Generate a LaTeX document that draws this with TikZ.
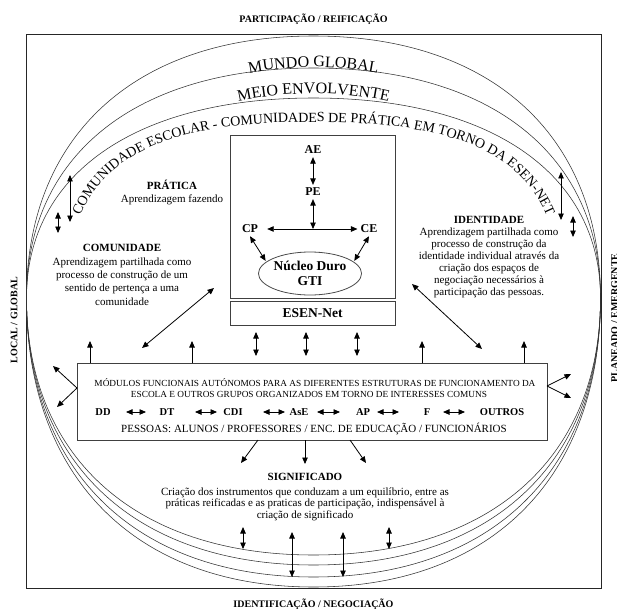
\documentclass[tikz,border=0pt]{standalone}
\usepackage{fontspec}
\setmainfont{Liberation Serif}
\usetikzlibrary{arrows.meta,decorations.text,shapes.geometric}
\newcommand{\fsz}[2]{\fontsize{#1}{#2}\selectfont}
\begin{document}
\begin{tikzpicture}[x=1pt,y=1pt,
  >={Triangle[length=6.5pt,width=5.5pt]},
  curve/.style={draw=black!80, line width=0.55pt},
  frm/.style={draw=black!85, line width=0.9pt},
  boxstyle/.style={draw=black!75, line width=0.9pt, fill=white, rectangle, inner sep=0pt, outer sep=0pt},
  dbl/.style={<->, line width=0.8pt},
  sgl/.style={->, line width=0.8pt},
  sidelbl/.style={font=\bfseries\fsz{10}{12}, inner sep=0pt},
  hd/.style={font=\bfseries\fsz{11}{13}, inner sep=0pt},
  bodyl/.style={font=\fsz{11}{13.3}, align=center, inner sep=0pt, anchor=north},
  ab/.style={font=\bfseries\fsz{12}{14}, inner sep=3pt},
  rowitem/.style={font=\bfseries\fsz{10.5}{12}, inner sep=0pt, anchor=base},
  modtxt/.style={font=\fsz{9.3}{11}, inner sep=0pt, anchor=base}
]
\useasboundingbox (0,0) rectangle (617,-612);
\fill[white] (0,0) rectangle (617,-612);

% side labels
\node[sidelbl] (ttop) at (313.5,-19) {PARTICIPAÇÃO / REIFICAÇÃO};
\node[sidelbl] (tbot) at (313.5,-604) {IDENTIFICAÇÃO / NEGOCIAÇÃO};
\node[sidelbl, rotate=90] (tleft) at (14,-320) {LOCAL / GLOBAL};
\node[sidelbl, rotate=90] (tright) at (614.5,-318) {PLANEADO / EMERGENTE};

% frame
\draw[frm] (26,-34) rectangle (601,-588);

% top curves
\draw[curve] (26.5,-298) .. controls (26.5,-135.6) and (135.6,-36) .. (313.5,-36) .. controls (491.4,-36) and (600.5,-135.6) .. (600.5,-298);
\draw[curve] (26.5,-298) .. controls (26.5,-155.4) and (135.6,-68) .. (313.5,-68) .. controls (491.4,-68) and (600.5,-155.4) .. (600.5,-298);
\draw[curve] (26.5,-298) .. controls (26.5,-174) and (135.6,-98) .. (313.5,-98) .. controls (491.4,-98) and (600.5,-174) .. (600.5,-298);
% bottom curves
\draw[curve] (26.5,-298) .. controls (26.5,-477.2) and (135.6,-587) .. (313.5,-587) .. controls (491.4,-587) and (600.5,-477.2) .. (600.5,-298);
\draw[curve] (26.5,-298) .. controls (26.5,-471) and (135.6,-577) .. (313.5,-577) .. controls (491.4,-577) and (600.5,-471) .. (600.5,-298);
\draw[curve] (26.5,-298) .. controls (26.5,-463.5) and (135.6,-565) .. (313.5,-565) .. controls (491.4,-565) and (600.5,-463.5) .. (600.5,-298);
\draw[curve] (26.5,-298) .. controls (26.5,-457.3) and (135.6,-555) .. (313.5,-555) .. controls (491.4,-555) and (600.5,-457.3) .. (600.5,-298);

% curved texts
\path[decorate, decoration={text along path, text align=center,
  text={|\fsz{16}{16}|MUNDO GLOBAL}}]
  ([shift={(313.5,-298)}]118:280 and 231) arc[start angle=118, end angle=62, x radius=280, y radius=231];
\path[decorate, decoration={text along path, text align=center,
  text={|\fsz{16}{16}|MEIO ENVOLVENTE}}]
  ([shift={(313.5,-298)}]120:270 and 204.5) arc[start angle=120, end angle=60, x radius=270, y radius=204.5];
\path[decorate, decoration={text along path, text align=center,
  text={|\fsz{14}{14}|COMUNIDADE ESCOLAR - COMUNIDADES DE PRÁTICA EM TORNO DA ESEN-NET}}]
  (66,-300) .. controls (66,-171.8) and (134,-122) .. (313.5,-122) .. controls (493,-122) and (561,-171.8) .. (561,-300);

% core boxes
\node[boxstyle, minimum width=165, minimum height=163] (core) at (312.5,-216.5) {};
\node[boxstyle, minimum width=165, minimum height=24, font=\bfseries\fsz{13.5}{15}] (esen) at (312.5,-313) {ESEN-Net};
\node[boxstyle, minimum width=470, minimum height=77] (mod) at (312,-401.5) {};

% core content
\node[ab] (ae) at (313,-150) {AE};
\node[ab] (pe) at (313,-192) {PE};
\node[ab] (cp) at (250,-229) {CP};
\node[ab] (ce) at (369,-229) {CE};
\coordinate (jn) at (313,-229);
\node[ellipse, draw=black!70, line width=0.8pt, minimum width=100, minimum height=43, inner sep=0pt,
  font=\bfseries\fsz{13.5}{15}, align=center] (nuc) at (310,-273.5) {Núcleo Duro\\GTI};
\draw[dbl] (ae) -- (pe);
\draw[dbl] (pe) -- (jn);
\draw[dbl, shorten <=6pt] (cp) -- (ce);
\draw[dbl, shorten >=1pt] (cp.south) -- (nuc.165);
\draw[dbl, shorten >=1pt] (ce.south) -- (nuc.15);

% esen to modules
\coordinate (x1) at (256,0);
\coordinate (x2) at (306,0);
\coordinate (x3) at (357,0);
\draw[dbl, shorten <=7pt, shorten >=7pt] (esen.south -| x1) -- (mod.north -| x1);
\draw[dbl, shorten <=7pt, shorten >=7pt] (esen.south -| x2) -- (mod.north -| x2);
\draw[dbl, shorten <=7pt, shorten >=7pt] (esen.south -| x3) -- (mod.north -| x3);

% module text
\node[modtxt] (m1) at (315,-386) {MÓDULOS FUNCIONAIS AUTÓNOMOS PARA AS DIFERENTES ESTRUTURAS DE FUNCIONAMENTO DA};
\node[modtxt] (m2) at (309,-397) {ESCOLA E OUTROS GRUPOS ORGANIZADOS EM TORNO DE INTERESSES COMUNS};
\node[font=\fsz{11}{13}, inner sep=0pt, anchor=base] (m3) at (314,-432.6) {PESSOAS: ALUNOS / PROFESSORES / ENC. DE EDUCAÇÃO / FUNCIONÁRIOS};
\node[rowitem] (dd) at (103,-415.5) {DD};
\node[rowitem] (dt) at (167,-415.5) {DT};
\node[rowitem] (cdi) at (233,-415.5) {CDI};
\node[rowitem] (ase) at (299,-415.5) {AsE};
\node[rowitem] (ap) at (363,-415.5) {AP};
\node[rowitem] (f) at (427,-415.5) {F};
\node[rowitem] (outros) at (502,-415.5) {OUTROS};
\foreach \a/\b [count=\i] in {126/146,195/217,263/285,317/340,377/399,443/465}{
  \coordinate (r\i a) at (\a,-412);
  \coordinate (r\i b) at (\b,-412);
  \draw[dbl] (r\i a) -- (r\i b);
}

% up arrows from module box
\foreach \x [count=\i] in {90,192,422,524}{
  \coordinate (u\i) at (\x,-341);
  \draw[sgl] (mod.north -| u\i) -- (u\i);
}
% diagonals
\coordinate (dl1) at (142,-348); \coordinate (dl2) at (214,-288);
\coordinate (dr1) at (412,-284); \coordinate (dr2) at (482,-349);
\draw[dbl] (dl1) -- (dl2);
\draw[dbl] (dr1) -- (dr2);
% side arrows
\coordinate (lo) at (77,-388); \coordinate (lh1) at (53,-366); \coordinate (lh2) at (57,-407);
\coordinate (ro) at (547,-386); \coordinate (rh1) at (571,-374); \coordinate (rh2) at (571,-398);
\draw[sgl] (lo) -- (lh1); \draw[sgl] (lo) -- (lh2);
\draw[sgl] (ro) -- (rh1); \draw[sgl] (ro) -- (rh2);
% down arrows
\coordinate (d1a) at (258,-440); \coordinate (d1b) at (241,-463);
\coordinate (d2a) at (305,-440); \coordinate (d2b) at (305,-464);
\coordinate (d3a) at (350,-440); \coordinate (d3b) at (366,-463);
\draw[sgl] (d1a) -- (d1b); \draw[sgl] (d2a) -- (d2b); \draw[sgl] (d3a) -- (d3b);

% top double arrows
\coordinate (ta1) at (70,-175); \coordinate (ta2) at (70,-222);
\coordinate (tb1) at (58,-212); \coordinate (tb2) at (58,-233);
\coordinate (tc1) at (561,-172); \coordinate (tc2) at (561,-220);
\coordinate (td1) at (573,-216); \coordinate (td2) at (573,-237);
\draw[dbl] (ta1) -- (ta2); \draw[dbl] (tb1) -- (tb2);
\draw[dbl] (tc1) -- (tc2); \draw[dbl] (td1) -- (td2);
% bottom double arrows
\coordinate (ba1) at (243,-527); \coordinate (ba2) at (243,-549);
\coordinate (bb1) at (292,-532); \coordinate (bb2) at (292,-577);
\coordinate (bc1) at (343,-532); \coordinate (bc2) at (343,-577);
\coordinate (bd1) at (389,-527); \coordinate (bd2) at (389,-549);
\draw[dbl] (ba1) -- (ba2); \draw[dbl] (bb1) -- (bb2);
\draw[dbl] (bc1) -- (bc2); \draw[dbl] (bd1) -- (bd2);

% labels
\node[hd] (prat) at (172,-185) {PRÁTICA};
\node[bodyl] (prattxt) at (172,-194.5) {Aprendizagem fazendo};
\node[hd] (comu) at (122,-248) {COMUNIDADE};
\node[bodyl] (comutxt) at (122,-257.5) {Aprendizagem partilhada como\\processo de construção de um\\sentido de pertença a uma\\comunidade};
\node[hd] (iden) at (489,-220) {IDENTIDADE};
\node[bodyl, font=\fsz{11}{12}] (identxt) at (489,-227.5) {Aprendizagem partilhada como\\processo de construção da\\identidade individual através da\\criação dos espaços de\\negociação necessários à\\participação das pessoas.};
\node[hd] (sig) at (305,-477) {SIGNIFICADO};
\node[bodyl, font=\fsz{11}{11.6}] (sigtxt) at (305,-487.5) {Criação dos instrumentos que conduzam a um equilíbrio, entre as\\práticas reificadas e as praticas de participação, indispensável à\\criação de significado};
\end{tikzpicture}
\end{document}
